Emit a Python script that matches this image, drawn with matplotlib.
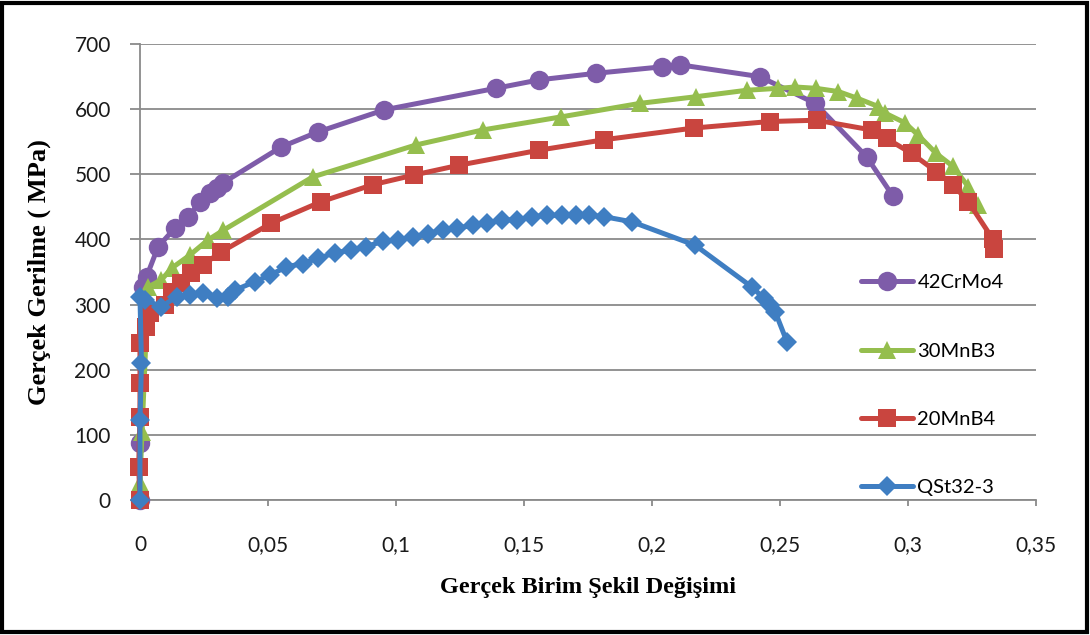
import matplotlib
matplotlib.use("Agg")
import matplotlib.pyplot as plt
from matplotlib.patches import Rectangle
from matplotlib.ticker import FuncFormatter

# True strain / true stress (MPa) for each steel
crmo_strain = [0.0, 0.0, 0.0013, 0.0026, 0.0071, 0.0136, 0.0188, 0.0234, 0.0273, 0.030, 0.0325,
               0.0552, 0.0695, 0.0955, 0.139, 0.156, 0.178, 0.204, 0.211, 0.242, 0.2637, 0.2838, 0.2942]
crmo_stress = [0, 88, 327, 343, 389, 417, 435, 457, 471, 479, 487,
               542, 565, 599, 632, 645, 655, 665, 668, 650, 609, 527, 466]

mnb3_strain = [0.0, 0.0, 0.0008, 0.0032, 0.0084, 0.0124, 0.0195, 0.0265, 0.0325, 0.0675, 0.1078,
               0.1338, 0.1643, 0.1955, 0.217, 0.237, 0.2494, 0.256, 0.264, 0.2728, 0.280,
               0.2884, 0.291, 0.2988, 0.304, 0.311, 0.3176, 0.3235, 0.3274]
mnb3_stress = [0, 26, 104, 327, 338, 356, 376, 399, 414, 496, 545,
               568, 588, 609, 619, 629, 632, 634, 632, 627, 617,
               604, 594, 579, 560, 532, 512, 481, 453]

mnb4_strain = [0.0, -0.0005, 0.0, 0.0, 0.0, 0.0025, 0.0039, 0.0097, 0.0124, 0.0162, 0.0201, 0.0246,
               0.0318, 0.0513, 0.0708, 0.0909, 0.1072, 0.1247, 0.1559, 0.1812, 0.2163, 0.246,
               0.2643, 0.2858, 0.2916, 0.3014, 0.3111, 0.3176, 0.3235, 0.3332, 0.3335]
mnb4_stress = [0, 51, 128, 179, 241, 266, 287, 300, 320, 333, 348, 361,
               381, 425, 458, 484, 499, 514, 537, 553, 571, 581,
               583, 568, 555, 532, 504, 484, 458, 400, 385]

qst_strain = [0.0, 0.0, 0.0006, 0.0, 0.002, 0.0084, 0.0143, 0.0195, 0.0246, 0.030, 0.0344, 0.037,
              0.0448, 0.0507, 0.0572, 0.0636, 0.0695, 0.076, 0.0825, 0.0883, 0.0948, 0.1007,
              0.1065, 0.1124, 0.1182, 0.124, 0.1299, 0.1357, 0.1416, 0.1474, 0.1533, 0.1591,
              0.165, 0.1702, 0.1754, 0.1812, 0.1922, 0.2169, 0.239, 0.2436, 0.2462, 0.2481, 0.2527]
qst_stress = [0, 123, 210, 312, 307, 297, 312, 315, 317, 310, 312, 322,
              335, 345, 358, 363, 371, 379, 384, 389, 397, 399,
              404, 409, 414, 417, 422, 425, 430, 430, 435, 437,
              437, 437, 437, 435, 427, 391, 327, 310, 299, 289, 243]

series_names = ["42CrMo4", "30MnB3", "20MnB4", "QSt32-3"]
x_ticks = [0, 0.05, 0.1, 0.15, 0.2, 0.25, 0.3, 0.35]
y_ticks = [0, 100, 200, 300, 400, 500, 600, 700]

plt.rcParams["font.family"] = ["Lato", "DejaVu Sans"]

fig = plt.figure(figsize=(10.9, 6.35), dpi=100)
ax = fig.add_axes([0.1284, 0.2126, 0.9505 - 0.1284, 0.9307 - 0.2126])

styles = [
    (crmo_strain, crmo_stress, "#7E5CA9", "o", 14),
    (mnb3_strain, mnb3_stress, "#95BE4E", "^", 13),
    (mnb4_strain, mnb4_stress, "#C9453F", "s", 13.5),
    (qst_strain, qst_stress, "#3F7EC2", "D", 10.5),
]
for (xs, ys, col, mk, ms), name in zip(styles, series_names):
    ax.plot(xs, ys, color=col, lw=3.6, marker=mk, markersize=ms,
            markeredgewidth=0, label=name, solid_joinstyle="round",
            solid_capstyle="round", clip_on=False, zorder=3)

ax.set_xlim(0, 0.35)
ax.set_ylim(0, 700)
ax.set_xticks(x_ticks)
ax.set_yticks(y_ticks)
ax.xaxis.set_major_formatter(FuncFormatter(
    lambda v, p: "0" if v == 0 else f"{v:.2f}".rstrip("0").replace(".", ",")))
ax.yaxis.set_major_formatter(FuncFormatter(lambda v, p: f"{int(v)}"))

ax.grid(axis="y", color="#8a8a8a", lw=1.3, zorder=0)
ax.set_axisbelow(True)
for s in ("top", "right"):
    ax.spines[s].set_visible(False)
for s in ("left", "bottom"):
    ax.spines[s].set_color("#8a8a8a")
    ax.spines[s].set_linewidth(1.3)

ax.tick_params(axis="both", colors="#8a8a8a", labelcolor="#1a1a1a",
               labelsize=15, width=1.3)
ax.tick_params(axis="y", length=7, pad=14)
ax.tick_params(axis="x", length=4, pad=21)

ax.set_ylabel("Gerçek Gerilme ( MPa)", family="Liberation Serif",
              fontweight="bold", fontsize=19, labelpad=17)
ax.set_xlabel("Gerçek Birim Şekil Değişimi", family="Liberation Serif",
              fontweight="bold", fontsize=17.5, labelpad=16)

leg = ax.legend(loc="upper left", bbox_to_anchor=(861 / 1090, 1 - 274 / 635),
                bbox_transform=fig.transFigure, frameon=False, fontsize=14.5,
                handlelength=2.6, handletextpad=0.2, labelspacing=2.55,
                borderaxespad=0, borderpad=0)

# black frame round the whole figure
fig.patches.append(Rectangle((0.002, 0.004), 0.995, 0.992, transform=fig.transFigure,
                             fill=False, edgecolor="black", lw=3))

fig.savefig("out.png", dpi=100)
